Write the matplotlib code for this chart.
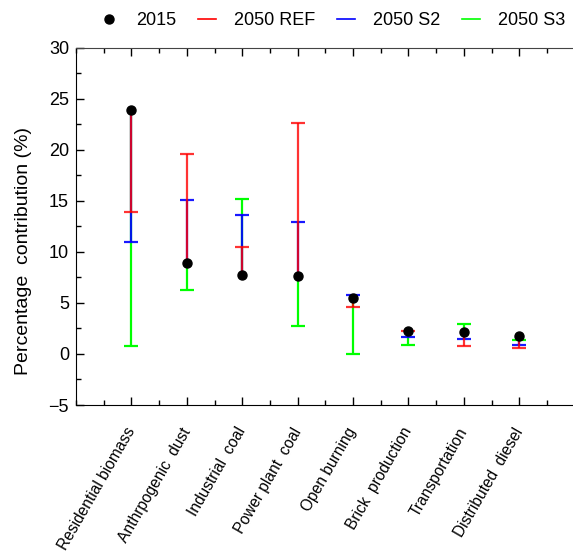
import numpy as np
import matplotlib.pyplot as plt
from matplotlib.lines import Line2D
from matplotlib.ticker import MultipleLocator

plt.rcParams['font.family'] = ['Liberation Sans', 'DejaVu Sans']

sources = ["Residential biomass", "Anthrpogenic  dust", "Industrial  coal", "Power plant  coal",
           "Open burning", "Brick  production", "Transportation", "Distributed  diesel"]
y2015 = [23.9, 8.9, 7.7, 7.6, 5.5, 2.2, 2.1, 1.8]
ref2050 = [13.9, 19.6, 10.5, 22.6, 4.6, 2.2, 0.8, 0.6]
s2_2050 = [11.0, 15.1, 13.6, 12.9, 5.8, 1.7, 1.5, 0.9]
s3_2050 = [0.8, 6.3, 15.2, 2.7, 0.0, 0.9, 2.9, 1.4]

x = np.arange(1, len(sources) + 1)

fig = plt.figure(figsize=(5.73, 5.53), dpi=100)
ax = fig.add_axes([0.1326, 0.2676, 0.8674, 0.6465])

#Lines from 2015 to each 2050 scenario, cap only at the 2050 end.
for vals, col, a in [(s3_2050, "#00ff00", 1.0), (s2_2050, "#0000ff", 0.9), (ref2050, "#ff0000", 0.8)]:
    ax.vlines(x, y2015, vals, color=col, lw=1.6, alpha=a, zorder=2)
    ax.plot(x, vals, ls="none", marker="_", ms=10.5, mew=1.6, color=col, alpha=a, zorder=2)

ax.plot(x, y2015, ls="none", marker="o", ms=6.5, color="black", zorder=3)

ax.set_xlim(0, 8.97)
ax.set_ylim(-5, 30)
ax.set_xticks(x)
ax.set_xticklabels(sources, rotation=60, ha="right", va="center", rotation_mode="anchor", fontsize=11.2)
ax.xaxis.set_minor_locator(MultipleLocator(0.5))
ax.yaxis.set_major_locator(MultipleLocator(5))
ax.yaxis.set_minor_locator(MultipleLocator(2.5))
ax.tick_params(which="major", direction="in", length=6, width=1, labelsize=13, top=True)
ax.tick_params(which="minor", direction="in", length=3.5, width=1, top=True)
ax.tick_params(axis="y", which="major", pad=5)
ax.tick_params(axis="x", which="major", labelsize=11.2, pad=17)
ax.spines["right"].set_visible(False)
ax.spines["top"].set_color("#444444")
ax.set_ylabel("Percentage  contribution (%)", fontsize=14)
ax.yaxis.set_label_coords(-0.088, 0.43)

handles = [Line2D([], [], ls="none", marker="o", ms=6.5, color="black"),
           Line2D([], [], color="#ff0000", lw=1.2),
           Line2D([], [], color="#0000ff", lw=1.2),
           Line2D([], [], color="#00ff00", lw=1.2)]
fig.legend(handles, ["2015", "2050 REF", "2050 S2", "2050 S3"], loc="center", ncol=4,
           bbox_to_anchor=(0.58, 0.963), frameon=False, fontsize=13,
           handlelength=1.0, columnspacing=1.2, handletextpad=1.0)

plt.savefig("out.png", dpi=100)
